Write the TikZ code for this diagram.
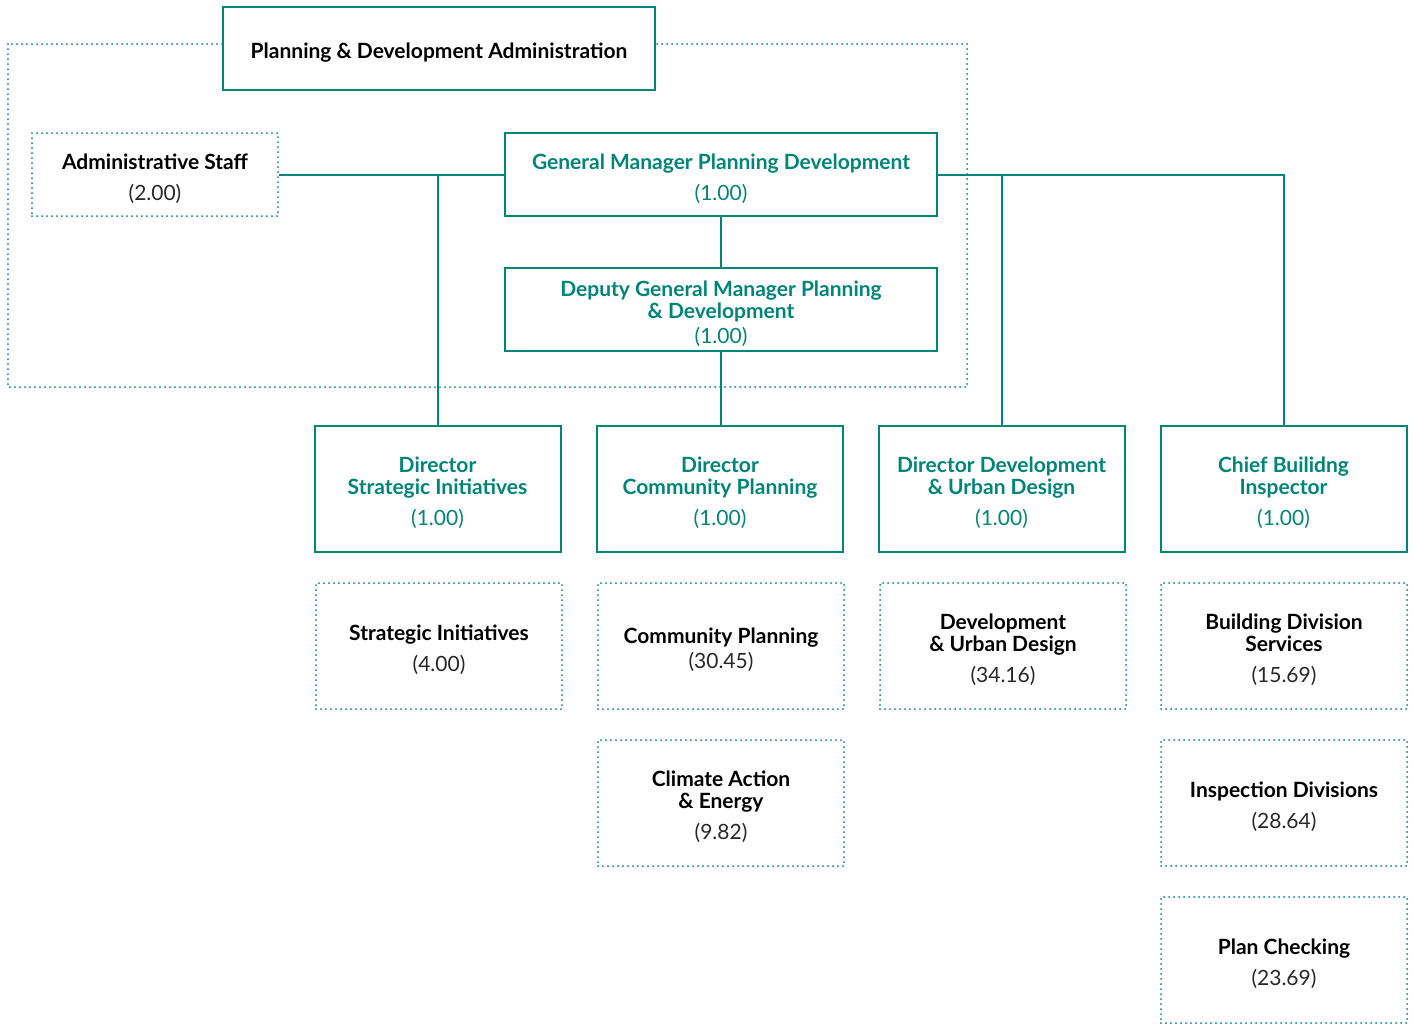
\documentclass[tikz,border=0pt]{standalone}
\usepackage{fontspec}
\setmainfont{Lato}
\definecolor{tealc}{RGB}{0,134,120}
\definecolor{numgray}{RGB}{40,40,40}
\begin{document}
\begin{tikzpicture}[x=1pt,y=-1pt,
  solidbox/.style={draw=tealc, line width=2pt, fill=white, inner sep=0pt},
  dotbox/.style={draw=tealc, line width=2pt, line cap=round, dash pattern=on 0pt off 5pt,
    fill=white, inner sep=0pt},
  txt/.style={inner sep=0pt, align=center, yshift=-4pt, font=\fontsize{21}{22}\selectfont, text=black},
  ttxt/.style={txt, text=tealc},
  dotline/.style={draw=tealc, line width=2pt, line cap=round, dash pattern=on 0pt off 5pt},
  conn/.style={draw=tealc, line width=2pt},
  wide/.style={minimum width=432pt, minimum height=83pt},
  small/.style={minimum width=246pt, minimum height=83pt},
  tall/.style={minimum width=246pt, minimum height=126pt}
]
\useasboundingbox (0,0) rectangle (1413,1026);
\fill[white] (0,0) rectangle (1413,1026);

% group boundary
\draw[dotline] (8,44) rectangle (967,387);

\node[solidbox, wide] (adm) at (439,48.5) {};
\node[txt] (admt) at (adm) {\textbf{Planning \& Development Administration}};
\node[dotbox, small] (ast) at (155,174.5) {};
\node[txt] (astt) at (ast) {\textbf{Administrative Staff}\\[9pt]{\color{numgray}(2.00)}};
\node[solidbox, wide] (gm) at (721,174.5) {};
\node[ttxt] (gmt) at (gm) {\textbf{General Manager Planning Development}\\[9pt](1.00)};
\node[solidbox, wide] (dep) at (721,309.5) {};
\node[ttxt] (dept) at (dep) {\textbf{Deputy General Manager Planning}\\\textbf{\& Development}\\[3pt](1.00)};

\node[solidbox, tall] (dsi) at (437.5,489) {};
\node[ttxt] (dsit) at (dsi) {\textbf{Director}\\\textbf{Strategic Initiatives}\\[9pt](1.00)};
\node[solidbox, tall] (dcp) at (720,489) {};
\node[ttxt] (dcpt) at (dcp) {\textbf{Director}\\\textbf{Community Planning}\\[9pt](1.00)};
\node[solidbox, tall] (dud) at (1001.5,489) {};
\node[ttxt] (dudt) at (dud) {\textbf{Director Development}\\\textbf{\& Urban Design}\\[9pt](1.00)};
\node[solidbox, tall] (cbi) at (1283.5,489) {};
\node[ttxt] (cbit) at (cbi) {\textbf{Chief Builidng}\\\textbf{Inspector}\\[9pt](1.00)};

\node[dotbox, tall] (si) at (439,646) {};
\node[txt] (sit) at (si) {\textbf{Strategic Initiatives}\\[9pt]{\color{numgray}(4.00)}};
\node[dotbox, tall] (cp) at (721,646) {};
\node[txt] (cpt) at (cp) {\textbf{Community Planning}\\[3pt]{\color{numgray}(30.45)}};
\node[dotbox, tall] (ud) at (1003,646) {};
\node[txt] (udt) at (ud) {\textbf{Development}\\\textbf{\& Urban Design}\\[9pt]{\color{numgray}(34.16)}};
\node[dotbox, tall] (bds) at (1284,646) {};
\node[txt] (bdst) at (bds) {\textbf{Building Division}\\\textbf{Services}\\[9pt]{\color{numgray}(15.69)}};
\node[dotbox, tall] (cae) at (721,803) {};
\node[txt] (caet) at (cae) {\textbf{Climate Action}\\\textbf{\& Energy}\\[9pt]{\color{numgray}(9.82)}};
\node[dotbox, tall] (ins) at (1284,803) {};
\node[txt] (inst) at (ins) {\textbf{Inspection Divisions}\\[9pt]{\color{numgray}(28.64)}};
\node[dotbox, tall] (pc) at (1284,960) {};
\node[txt] (pct) at (pc) {\textbf{Plan Checking}\\[9pt]{\color{numgray}(23.69)}};

% connectors
\draw[conn] (ast.east) -- (gm.west);
\draw[conn] (dsi.north) -- (dsi.north |- gm.west);
\draw[conn] (gm.east) -- (cbi.north |- gm.east) -- (cbi.north);
\draw[conn] (dud.north) -- (dud.north |- gm.east);
\draw[conn] (gm.south) -- (dep.north);
\draw[conn] (dep.south) -- (dep.south |- dcp.north);
\end{tikzpicture}
\end{document}
